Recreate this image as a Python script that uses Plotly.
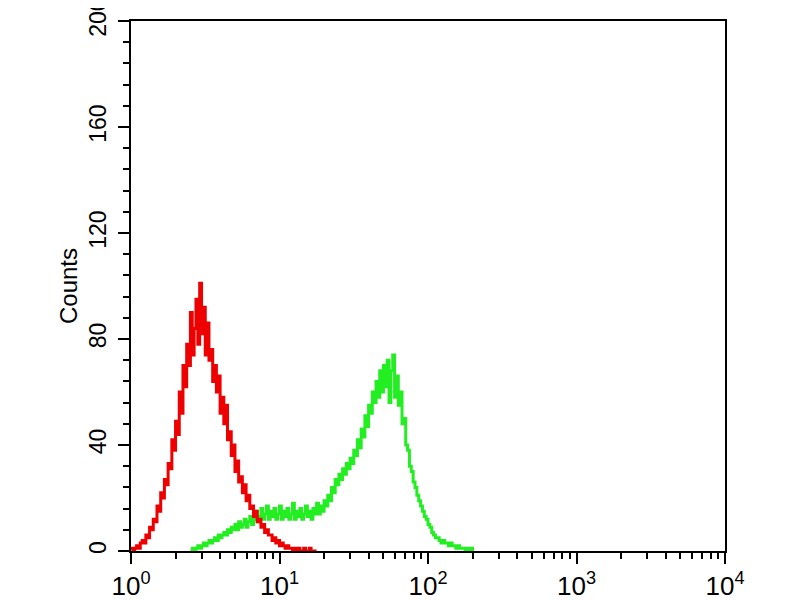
import plotly.graph_objects as go

# Flow cytometry histogram: channels on a log scale (80 channels per decade)
CH_PER_DECADE = 80

red_start_channel = 0
red_counts = [
    1, 0, 1, 2, 1, 3, 4, 3, 6, 5, 9, 8, 12, 11, 17, 15, 22, 20, 27, 25,
    33, 31, 42, 38, 49, 44, 60, 52, 70, 62, 78, 70, 90, 74, 84, 95, 78, 101, 82, 92,
    74, 86, 72, 76, 64, 70, 60, 66, 52, 58, 48, 55, 42, 45, 36, 40, 30, 34, 26, 28,
    22, 25, 19, 21, 16, 17, 13, 15, 11, 12, 9, 10, 7, 8, 6, 6, 4, 5, 3, 4,
    2, 3, 2, 1, 2, 1, 1, 0, 1, 0, 1, 0, 0, 1, 0, 0, 1, 0, 0, 0, 0,
]

green_start_channel = 32
green_counts = [
    0, 1, 0, 1, 2, 1, 2, 3, 2, 3, 4, 3, 4, 5, 4, 6, 5, 6, 7, 6,
    8, 7, 9, 8, 10, 8, 11, 9, 10, 12, 9, 11, 13, 10, 12, 15, 11, 13, 16, 12,
    14, 17, 12, 15, 13, 16, 12, 14, 17, 12, 15, 13, 16, 12, 14, 18, 12, 15, 13, 16,
    12, 14, 17, 13, 15, 12, 16, 14, 18, 14, 17, 15, 19, 17, 21, 19, 24, 22, 27, 25,
    29, 27, 31, 29, 33, 31, 35, 33, 38, 36, 42, 39, 46, 43, 51, 47, 55, 52, 60, 56,
    64, 58, 68, 60, 70, 62, 72, 56, 68, 74, 58, 66, 55, 60, 48, 50, 40, 38, 32, 30,
    26, 24, 21, 19, 17, 15, 13, 12, 10, 9, 7, 6, 5, 5, 4, 3, 4, 3, 3, 2,
    3, 2, 2, 1, 2, 1, 1, 1, 0, 1, 0, 1, 0,
]

x_tickvals = [1, 10, 100, 1000, 10000]
x_ticktext = ["10<sup>0</sup>", "10<sup>1</sup>", "10<sup>2</sup>", "10<sup>3</sup>", "10<sup>4</sup>"]
y_tickvals = [0, 40, 80, 120, 160, 200]
y_title = "Counts"


def channel_values(start, n):
    return [10 ** ((start + i) / CH_PER_DECADE) for i in range(n)]


fig = go.Figure()
fig.add_trace(go.Scatter(
    x=channel_values(green_start_channel, len(green_counts)), y=green_counts,
    mode="lines", line=dict(color="#22ee22", width=3, shape="hv"),
    hoverinfo="skip", showlegend=False,
))
fig.add_trace(go.Scatter(
    x=channel_values(red_start_channel, len(red_counts)), y=red_counts,
    mode="lines", line=dict(color="#ee0000", width=3, shape="hv"),
    hoverinfo="skip", showlegend=False,
))

# the page adds an 8px body margin, so the figure margins are offset by 8px
fig.update_layout(
    width=800, height=600,
    margin=dict(l=123, r=83, t=13, b=57, autoexpand=False),
    paper_bgcolor="white", plot_bgcolor="white",
    font=dict(family="Liberation Sans, Arial, sans-serif", color="black"),
)
fig.update_xaxes(
    type="log", range=[0, 4], automargin=False,
    tickvals=x_tickvals, ticktext=x_ticktext,
    ticks="outside", ticklen=11, tickwidth=2, tickcolor="black",
    minor=dict(ticks="outside", ticklen=6, tickwidth=1.5, tickcolor="black", dtick="D1", showgrid=False),
    showline=True, linecolor="black", linewidth=2, mirror=True,
    showgrid=False, zeroline=False,
    tickfont=dict(size=26),
)
fig.update_yaxes(
    range=[0, 200], automargin=False,
    tickvals=y_tickvals,
    ticks="outside", ticklen=11, tickwidth=2, tickcolor="black",
    minor=dict(ticks="outside", ticklen=6, tickwidth=1.5, tickcolor="black", dtick=8, showgrid=False),
    showline=True, linecolor="black", linewidth=2, mirror=True,
    showgrid=False, zeroline=False,
    tickangle=-90, ticklabelstandoff=3, ticklabeloverflow="allow",
    tickfont=dict(size=23),
    title=dict(text=y_title, font=dict(size=24), standoff=0),
)

fig.write_html("out.html")
